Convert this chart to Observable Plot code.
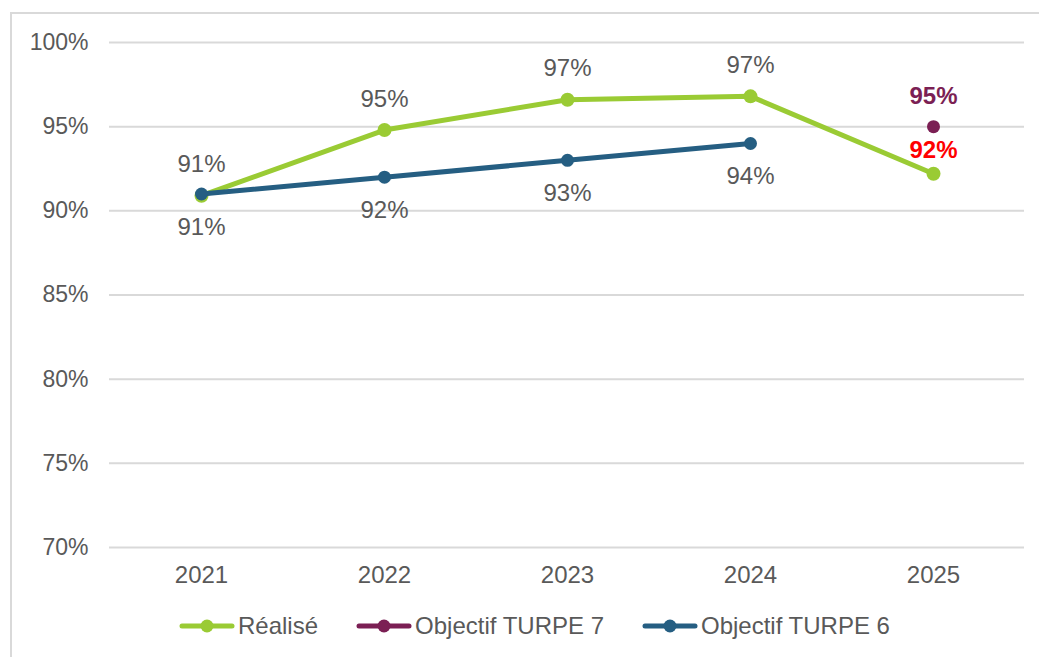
<!DOCTYPE html>
<html>
<head>
<meta charset="utf-8">
<script src="https://cdn.jsdelivr.net/npm/d3@7"></script>
<script src="https://cdn.jsdelivr.net/npm/@observablehq/plot@0.6"></script>
<style>
  html, body { margin: 0; padding: 0; background: #fff; overflow: hidden; width: 1039px; height: 657px; }
  body { position: relative; font-family: "Liberation Sans", Arial, sans-serif; }
  #frame { position: absolute; left: 10px; top: 12px; width: 1100px; height: 700px; border: 2px solid #d9d9d9; box-sizing: border-box; }
  #chart { position: absolute; left: 0; top: 0; }
  #legend { position: absolute; left: 179px; top: 612px; display: flex; align-items: center; font-size: 24px; color: #595959; white-space: nowrap; }
  .item { display: flex; align-items: center; margin-right: 38px; }
  .item svg { margin-right: 3px; }
</style>
</head>
<body>
<div id="frame"></div>
<div id="chart"></div>
<div id="legend"></div>
<script>
const years = ["2021", "2022", "2023", "2024", "2025"];
const realiseValues = [90.9, 94.8, 96.6, 96.8, 92.2];
const turpe6Years = ["2021", "2022", "2023", "2024"];
const turpe6Values = [91, 92, 93, 94];
const turpe7Years = ["2025"];
const turpe7Values = [95];
const yTicks = [70, 75, 80, 85, 90, 95, 100];
const seriesNames = ["Réalisé", "Objectif TURPE 7", "Objectif TURPE 6"];
const seriesColors = ["#9ACB34", "#7B1F54", "#255E82"];

const realise = years.map((y, i) => ({year: y, value: realiseValues[i]}));
const turpe6 = turpe6Years.map((y, i) => ({year: y, value: turpe6Values[i]}));
const turpe7 = turpe7Years.map((y, i) => ({year: y, value: turpe7Values[i]}));
const pct = d => Math.round(d.value) + "%";

const realiseMain = realise.filter(d => d.year !== "2025");
const realiseLast = realise.filter(d => d.year === "2025");

const font = "Liberation Sans, Arial, sans-serif";

const chart = Plot.plot({
  width: 1039,
  height: 600,
  marginLeft: 109,
  marginRight: 15,
  marginTop: 42,
  marginBottom: 53,
  style: {fontFamily: font, fontSize: "24px", color: "#595959", background: "transparent"},
  x: {type: "point", domain: years, padding: 0.5},
  y: {domain: [70, 100]},
  marks: [
    Plot.ruleY(yTicks, {stroke: "#d9d9d9", strokeWidth: 2}),
    Plot.axisY({ticks: yTicks, tickSize: 0, tickPadding: 21, tickFormat: d => d + "%", fontSize: 23, fill: "#595959", label: null}),
    Plot.axisX({tickSize: 0, tickPadding: 18, fontSize: 24, fill: "#595959", label: null}),
    Plot.line(realise, {x: "year", y: "value", stroke: seriesColors[0], strokeWidth: 5}),
    Plot.dot(realise, {x: "year", y: "value", fill: seriesColors[0], r: 7}),
    Plot.line(turpe6, {x: "year", y: "value", stroke: seriesColors[2], strokeWidth: 5}),
    Plot.dot(turpe6, {x: "year", y: "value", fill: seriesColors[2], r: 6.5}),
    Plot.dot(turpe7, {x: "year", y: "value", fill: seriesColors[1], r: 6.5}),
    Plot.text(realiseMain, {x: "year", y: "value", text: pct, dy: -31, fill: "#595959", fontSize: 24}),
    Plot.text(realiseLast, {x: "year", y: "value", text: pct, dy: -23, fill: "#FF0000", fontSize: 24, fontWeight: "bold"}),
    Plot.text(turpe6, {x: "year", y: "value", text: pct, dy: 33, fill: "#595959", fontSize: 24}),
    Plot.text(turpe7, {x: "year", y: "value", text: pct, dy: -30, fill: seriesColors[1], fontSize: 24, fontWeight: "bold"})
  ]
});
document.getElementById("chart").appendChild(chart);

const legend = document.getElementById("legend");
seriesNames.forEach((name, i) => {
  const item = document.createElement("div");
  item.className = "item";
  item.innerHTML = `<svg width="56" height="16"><line x1="3" x2="53" y1="8" y2="8" stroke="${seriesColors[i]}" stroke-width="5" stroke-linecap="round"/><circle cx="28" cy="8" r="6.5" fill="${seriesColors[i]}"/></svg><span>${name}</span>`;
  legend.appendChild(item);
});
</script>
</body>
</html>
